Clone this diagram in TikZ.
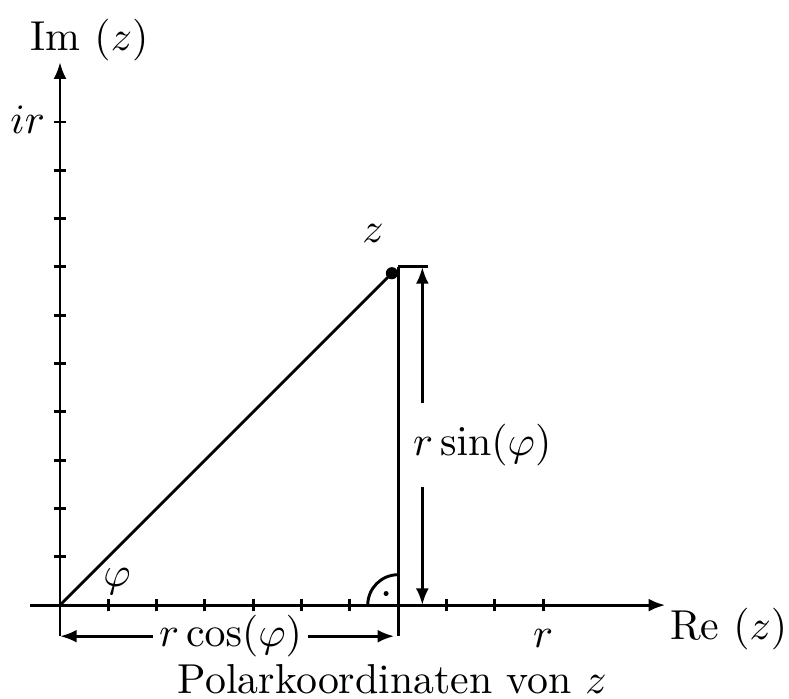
\documentclass[tikz,border=0pt]{standalone}
\usepackage{tikz}
\usetikzlibrary{arrows.meta,positioning,calc}

\begin{document}
\begin{tikzpicture}[
    x=0.406cm, y=0.406cm, line width=0.7pt,
    >={Latex[length=4pt,width=3.1pt]},
    lbl/.style={anchor=base, inner sep=0pt},
    dimlbl/.style={anchor=base, inner xsep=1pt, inner ysep=4.6pt}
]
\useasboundingbox (-1.242,-1.925) rectangle (15.09,12.526);

% Achsen
\coordinate (O) at (0,0);
\coordinate (xstart) at (-0.62,0);
\coordinate (xend) at (12.53,0);
\coordinate (yend) at (0,11.24);
\draw[->] (xstart) -- (xend);
\draw[->] (O) -- (yend);
\foreach \i in {1,...,10} {
    \draw (\i,-0.13) -- (\i,0.13);
    \draw (-0.13,\i) -- (0.13,\i);
}
\node (im) [lbl] at (0.61,11.49) {Im $(z)$};
\node (re) [lbl] at (13.84,-0.71) {Re $(z)$};
\node (ir) [lbl] at (-0.67,9.77) {$ir$};
\node (r) [lbl] at (10,-0.87) {$r$};

% Punkt z und Dreieck
\coordinate (z) at (6.87,6.87);
\coordinate (top) at (7,7);
\coordinate (foot) at (7,0);
\coordinate (footlow) at (7,-0.64);
\coordinate (olow) at (0,-0.64);
\draw (O) -- (z);
\fill (z) circle (1.45pt);
\node (zlbl) [lbl] at (6.48,7.5) {$z$};
\node (phi) [lbl] at (1.18,0.39) {$\varphi$};
\draw (top) -- (footlow);
\draw (O) -- (olow);

% rechter Winkel
\draw ($(foot)+(-0.63,0)$) arc[start angle=180, end angle=90, radius=0.63];
\fill ($(foot)+(-0.25,0.24)$) circle (0.6pt);

% Bemassung r sin
\coordinate (stop) at (7.5,7);
\coordinate (sbot) at (7.5,0);
\draw (top) -- (7.62,7);
\node (rsin) [dimlbl] at (8.74,3.1) {$r\sin(\varphi)$};
\draw[->] (rsin.north -| stop) -- (stop);
\draw[->] (rsin.south -| sbot) -- (sbot);

% Bemassung r cos
\coordinate (cright) at (6.92,-0.64);
\node (rcos) [dimlbl] at (3.53,-0.86) {$r\cos(\varphi)$};
\draw[->] (rcos.west) -- (rcos.west -| olow);
\draw[->] (rcos.east) -- (rcos.east -| cright);

\node (title) [lbl] at (6.88,-1.82) {Polarkoordinaten von $z$};

\end{tikzpicture}
\end{document}
